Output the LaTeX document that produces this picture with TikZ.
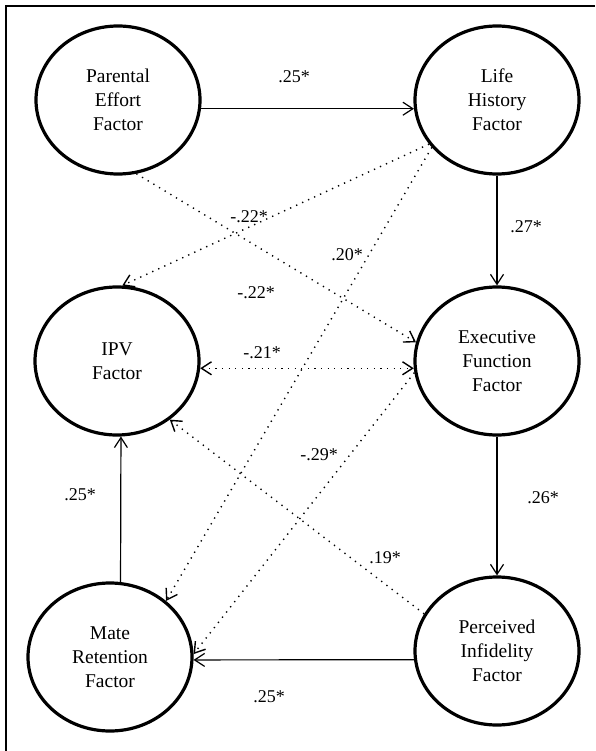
\documentclass[tikz,border=0pt]{standalone}
\usepackage{fontspec}
\setmainfont{Liberation Serif}
\usetikzlibrary{shapes.geometric,arrows.meta}

\begin{document}
\begin{tikzpicture}[x=1pt,y=-1pt,>={Straight Barb[length=10pt,width=13pt]}]
    \tikzset{factor/.style = {shape=ellipse, draw, line width=3.2pt, minimum width=164pt, minimum height=148pt, inner sep=0pt, align=center, font=\fontsize{19.5}{24}\selectfont}}
    \tikzset{coef/.style = {font=\fontsize{18}{20}\selectfont, inner sep=1pt}}
    \tikzset{direct/.style = {draw, line width=1.2pt, ->}}
    \tikzset{indirect/.style = {draw, line width=1.4pt, dash pattern=on 1.3pt off 5.3pt, ->}}

    \useasboundingbox (0,0) rectangle (595,751);
    \draw[line width=2.4pt] (6.2,751) -- (6.2,6.2) -- (595,6.2);

    % factors
    \node[factor] (pe)  at (118,100) {Parental\\Effort\\Factor};
    \node[factor] (lh)  at (497,100) {Life\\History\\Factor};
    \node[factor] (ipv) at (117,361) {IPV\\Factor};
    \node[factor] (ef)  at (497,361) {Executive\\Function\\Factor};
    \node[factor] (mr)  at (110,657) {Mate\\Retention\\Factor};
    \node[factor] (pi)  at (497,651) {Perceived\\Infidelity\\Factor};

    % coefficients
    \node[coef] (c1)  at (294,77)  {.25*};
    \node[coef] (c2)  at (526,227) {.27*};
    \node[coef] (c3)  at (249,217) {-.22*};
    \node[coef] (c4)  at (347,255) {.20*};
    \node[coef] (c5)  at (256,293) {-.22*};
    \node[coef] (c6)  at (262,353) {-.21*};
    \node[coef] (c7)  at (319,455) {-.29*};
    \node[coef] (c8)  at (543,498) {.26*};
    \node[coef] (c9)  at (80,495)  {.25*};
    \node[coef] (c10) at (385,558) {.19*};
    \node[coef] (c11) at (269,697) {.25*};

    % paths
    \draw[direct] (pe.-6) to (lh.186);
    \draw[direct] (lh.south) to (ef.north);
    \draw[direct] (ef.south) to (pi.north);
    \draw[direct] (pi.186) to (mr.-2);
    \draw[direct] (mr.82) to (ipv.-87);

    \draw[indirect] (lh.213) to (ipv.86);
    \draw[indirect] (lh.216) to (mr.45);
    \draw[indirect] (pe.-76) to (ef.167);
    \draw[indirect,<->] (ipv.-5) to (ef.185);
    \draw[indirect] (ef.188) to (mr.2);
    \draw[indirect] (pi.153) to (ipv.-48);
\end{tikzpicture}
\end{document}
